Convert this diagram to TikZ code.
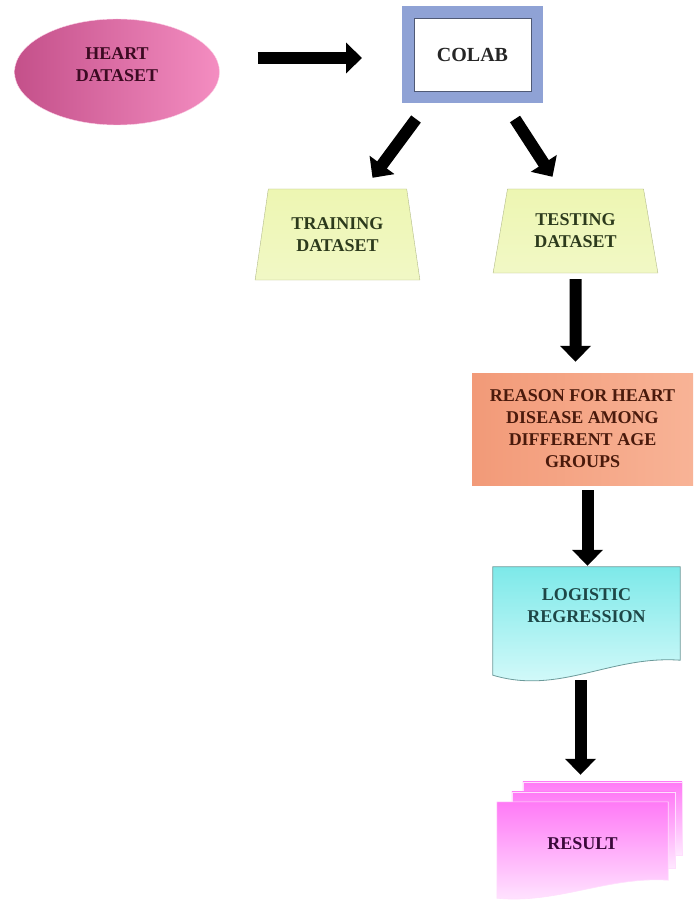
\documentclass[tikz,border=0pt]{standalone}
\usepackage{fontspec}
\setmainfont{Liberation Serif}
\usetikzlibrary{arrows.meta}
\usetikzlibrary{shapes.geometric}

\definecolor{heartL}{HTML}{C4508A}
\definecolor{heartR}{HTML}{F48DC1}
\definecolor{heartTxt}{HTML}{3C0A22}
\definecolor{colabFrame}{HTML}{8FA2D5}
\definecolor{trapFill}{HTML}{EDF6B2}
\definecolor{trapEdge}{HTML}{B2BA8A}
\definecolor{trapTxt}{HTML}{2C3A1C}
\definecolor{reasonL}{HTML}{F29A78}
\definecolor{reasonR}{HTML}{F8B396}
\definecolor{reasonTxt}{HTML}{4A1A0C}
\definecolor{logTop}{HTML}{7DE9E9}
\definecolor{logBot}{HTML}{DCFBFB}
\definecolor{logEdge}{HTML}{6C9A9A}
\definecolor{logTxt}{HTML}{1E4646}
\definecolor{resTop}{HTML}{FF7AF6}
\definecolor{resBot}{HTML}{FFE8FF}
\definecolor{resTxt}{HTML}{3A0A3A}

\begin{document}
\begin{tikzpicture}[x=1pt, y=-1pt,
    lbl/.style = {font=\fontsize{18}{22}\selectfont\bfseries, align=center},
    bigarrow/.style = {line width=12pt, -{Triangle[width=30pt,length=16pt]}},
    trap/.style = {lbl, trapezium, trapezium angle=77, trapezium stretches=true,
        minimum width=165pt, draw=trapEdge, top color=trapFill,
        bottom color=trapFill!75!white, text=trapTxt},
    sheet/.style = {top color=resTop, bottom color=resBot, draw=resTop!25!white, line width=0.6pt}]

    \useasboundingbox (0,0) rectangle (700,901);

    % shapes
    \node[lbl, ellipse, minimum width=205pt, minimum height=106pt, inner sep=0pt, text depth=14pt,
        left color=heartL, right color=heartR, draw=heartR!40!white, text=heartTxt]
        (heart) at (117,72) {HEART\\DATASET};

    \node[lbl, font=\fontsize{20}{24}\selectfont\bfseries, draw=colabFrame, line width=12pt,
        minimum width=129pt, minimum height=85pt, fill=white, text=black!85]
        (colab) at (472.5,54.5) {COLAB};
    \draw[colabFrame!55!black, line width=0.5pt]
        ([shift={(12,12)}]colab.north west) rectangle ([shift={(-12,-12)}]colab.south east);

    \node[trap, minimum height=91pt] (train) at (337.5,234.5) {TRAINING\\DATASET};
    \node[trap, minimum height=84pt] (test) at (575.5,231) {TESTING\\DATASET};

    \node[lbl, minimum width=221pt, minimum height=112pt, left color=reasonL,
        right color=reasonR, text=reasonTxt] (reason) at (582.5,429)
        {REASON FOR HEART\\DISEASE AMONG\\DIFFERENT AGE\\GROUPS};

    \node[lbl, minimum width=187pt, minimum height=78pt, text=logTxt] (logistic) at (586.5,606) {};
    \shade[top color=logTop, bottom color=logBot, draw=logEdge, line width=0.8pt]
        (logistic.north west) -- (logistic.north east) -- ([shift={(0,15)}]logistic.south east)
        .. controls ([shift={(-70,10)}]logistic.south east) and ([shift={(67,50)}]logistic.south west)
        .. ([shift={(0,30)}]logistic.south west) -- cycle;
    \node[lbl, text=logTxt] at (logistic) {LOGISTIC\\REGRESSION};

    \node[minimum width=171pt, minimum height=84pt] (result) at (582.5,844) {};
    \shade[sheet] ([shift={(26,-20)}]result.north west) -- ([shift={(14,-20)}]result.north east)
        -- ([shift={(14,-31)}]result.south east) -- ([shift={(26,-31)}]result.south west) -- cycle;
    \shade[sheet] ([shift={(15,-10)}]result.north west) -- ([shift={(7,-10)}]result.north east)
        -- ([shift={(7,-18)}]result.south east) -- ([shift={(15,-18)}]result.south west) -- cycle;
    \shade[sheet] (result.north west) -- (result.north east) -- ([shift={(0,-6)}]result.south east)
        .. controls ([shift={(-60,-10)}]result.south east) and ([shift={(60,18)}]result.south west)
        .. ([shift={(0,12)}]result.south west) -- cycle;
    \node[lbl, text=resTxt] at (result) {RESULT};

    % arrows
    \draw[bigarrow] ([xshift=38pt]heart.east |- 0,58) -- ([xshift=-40pt]colab.west |- 0,58);
    \draw[bigarrow] ([shift={(14,16)}]colab.south west) -- ([shift={(35,-11)}]train.north);
    \draw[bigarrow] ([shift={(-28,16)}]colab.south east) -- ([shift={(-23,-12)}]test.north);
    \draw[bigarrow] ([shift={(0,6)}]test.south) -- ([shift={(-7,-11)}]reason.north);
    \draw[bigarrow] ([shift={(5,5)}]reason.south) -- ([shift={(1,-1)}]logistic.north);
    \draw[bigarrow] ([shift={(-6,35)}]logistic.south) -- ([shift={(-2,-27)}]result.north);
\end{tikzpicture}
\end{document}
